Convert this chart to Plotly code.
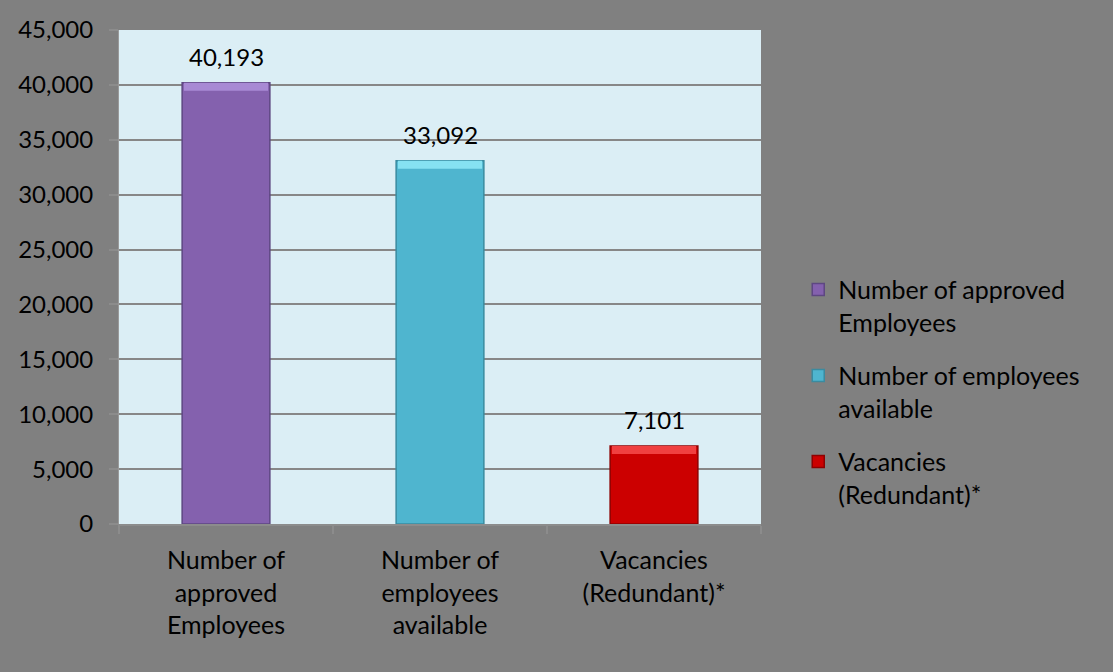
import plotly.graph_objects as go

# Workforce figures
categories = [
    "Number of approved Employees",
    "Number of employees available",
    "Vacancies (Redundant)*",
]
tick_text = [
    "Number of<br>approved<br>Employees",
    "Number of<br>employees<br>available",
    "Vacancies<br>(Redundant)*",
]
legend_names = [
    "Number of approved<br>Employees",
    "Number of employees<br>available",
    "Vacancies<br>(Redundant)*",
]
values = [40193, 33092, 7101]
y_ticks = [0, 5000, 10000, 15000, 20000, 25000, 30000, 35000, 40000, 45000]

fills = ["#8461AE", "#4FB5CF", "#CC0000"]
edges = ["#5E4782", "#3A8BA0", "#8E0000"]
tops = ["#A88AD4", "#86E2F2", "#F04040"]

FONT = "Lato"
FS = 24
FS_CAT = 25
BAR_W = 0.41

fig = go.Figure()

for i, (cat, name, v, fc, ec) in enumerate(zip(categories, legend_names, values, fills, edges)):
    fig.add_trace(go.Bar(
        x=[cat], y=[v], name=name, width=BAR_W, legendgroup=f"g{i}",
        marker=dict(color=fc, line=dict(color=ec, width=1.5)),
    ))
    # value label above the bar
    fig.add_annotation(
        x=cat, y=v, text=f"{v:,}", showarrow=False,
        yanchor="bottom", yshift=10,
        font=dict(family=FONT, size=FS, color="#000000"),
    )

# lighter bevel strip along the top edge of each bar
bevel = 45000 * 0.016
for i, (cat, v, tc) in enumerate(zip(categories, values, tops)):
    fig.add_trace(go.Bar(
        x=[cat], y=[bevel], base=[v - bevel], width=BAR_W * 0.96,
        marker=dict(color=tc, line=dict(width=0)), legendgroup=f"g{i}",
        showlegend=False, hoverinfo="skip",
    ))

fig.update_layout(
    width=1113, height=672,
    paper_bgcolor="#808080",
    plot_bgcolor="#DBEEF5",
    barmode="overlay",
    margin=dict(l=119, r=352, t=30, b=148),
    font=dict(family=FONT, size=FS, color="#000000"),
    showlegend=True,
    legend=dict(
        x=1.058, xanchor="left", y=0.521, yanchor="top",
        font=dict(family=FONT, size=FS_CAT, color="#000000"),
        bgcolor="rgba(0,0,0,0)", tracegroupgap=18,
        itemwidth=30, valign="top",
    ),
    xaxis=dict(
        type="category",
        tickvals=categories, ticktext=tick_text,
        tickson="boundaries", ticks="outside", ticklen=8,
        tickcolor="#8C8C8C", tickwidth=1.5,
        showline=True, linecolor="#8C8C8C", linewidth=2,
        showgrid=False, ticklabelstandoff=13,
        tickfont=dict(family=FONT, size=FS_CAT, color="#000000"),
    ),
    yaxis=dict(
        range=[0, 45000], tickvals=y_ticks,
        tickformat=",d",
        ticks="outside", ticklen=9, tickcolor="#8C8C8C", tickwidth=1.5,
        showline=True, linecolor="#9A9A9A", linewidth=1,
        showgrid=True, gridcolor="#878787", gridwidth=2,
        zeroline=False, ticklabelstandoff=11,
        tickfont=dict(family=FONT, size=FS, color="#000000"),
    ),
)

fig.write_html("out.html")
